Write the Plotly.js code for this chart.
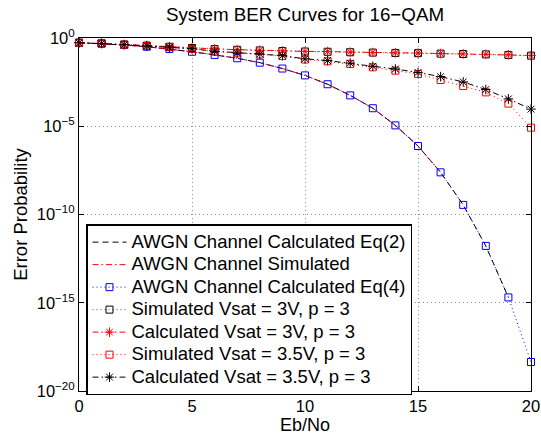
<!DOCTYPE html>
<html>
<head>
<meta charset="utf-8">
<script src="https://cdn.plot.ly/plotly-3.0.1.min.js"></script>
<style>html,body{margin:0;padding:0;background:#fff;}#chart{width:541px;height:438px;}</style>
</head>
<body>
<div id="chart"></div>
<script>
// Eb/No values
const ebno = [0,1,2,3,4,5,6,7,8,9,10,11,12,13,14,15,16,17,18,19,20];

// AWGN channel, calculated Eq(4)
const awgnEq4 = [5.4e-1,4.8e-1,4.0e-1,3.2e-1,2.4e-1,1.66e-1,1.1e-1,7.1e-2,4.0e-2,1.86e-2,7.6e-3,2.4e-3,5.6e-4,1.05e-4,1.12e-5,7.6e-7,2.45e-8,3.5e-10,1.66e-12,2.0e-15,4.4e-19];
// AWGN channel, calculated Eq(2) (underflows at 20 dB)
const awgnEq2 = [5.4e-1,4.8e-1,4.0e-1,3.2e-1,2.4e-1,1.66e-1,1.1e-1,7.1e-2,4.0e-2,1.86e-2,7.6e-3,2.4e-3,5.6e-4,1.05e-4,1.12e-5,7.6e-7,2.45e-8,3.5e-10,1.66e-12,2.0e-15,null];
// AWGN channel, simulated (no errors counted beyond 16 dB)
const awgnSim = [5.4e-1,4.8e-1,4.0e-1,3.2e-1,2.4e-1,1.66e-1,1.1e-1,7.1e-2,4.0e-2,1.86e-2,7.6e-3,2.4e-3,5.6e-4,1.05e-4,1.12e-5,7.6e-7,2.45e-8,null,null,null,null];

// Vsat = 3V, p = 3
const sim3V  = [0.537,0.498,0.430,0.370,0.318,0.272,0.236,0.215,0.198,0.183,0.172,0.166,0.156,0.149,0.143,0.138,0.130,0.124,0.118,0.110,0.100];
const calc3V = [0.537,0.501,0.427,0.372,0.316,0.275,0.240,0.219,0.200,0.186,0.174,0.170,0.158,0.151,0.145,0.141,0.132,0.126,0.120,0.112,0.102];

// Vsat = 3.5V, p = 3
const sim35V  = [0.537,0.490,0.417,0.355,0.302,0.240,0.170,0.135,0.117,0.095,0.0603,0.0479,0.0339,0.0219,0.0141,0.00912,0.00417,0.00191,0.000832,0.000191,0.0000083];
const calc35V = [0.537,0.490,0.417,0.355,0.302,0.245,0.178,0.141,0.123,0.100,0.0661,0.0525,0.0380,0.0251,0.0174,0.0112,0.00646,0.00324,0.00120,0.000355,0.0000933];

const seriesNames = [
  'AWGN Channel Calculated Eq(2)',
  'AWGN Channel Simulated',
  'AWGN Channel Calculated Eq(4)',
  'Simulated Vsat = 3V, p = 3',
  'Calculated Vsat = 3V, p = 3',
  'Simulated Vsat = 3.5V, p = 3',
  'Calculated Vsat = 3.5V, p = 3'
];

const xTickVals = [0,5,10,15,20];
const yTickVals = [1e-20,1e-15,1e-10,1e-5,1];
const yTickText = ['10<sup>\u221220</sup>','10<sup>\u221215</sup>','10<sup>\u221210</sup>','10<sup>\u22125</sup>','10<sup>0</sup>'];

const DASH = '6px,4px';
const DOT = '1px,3px';
const DASHDOT = '6px,3px,1.5px,3px';
const FONT = 'Liberation Sans, Arial, Helvetica, sans-serif';
const legendName = s => '<span style="font-size:18.5px">' + s + '</span>';

const traces = [
  {x: ebno, y: awgnEq2, name: legendName(seriesNames[0]), mode: 'lines',
   line: {color: '#000', width: 1, dash: DASH}},
  {x: ebno, y: awgnSim, name: legendName(seriesNames[1]), mode: 'lines',
   line: {color: '#ff0000', width: 1, dash: DASHDOT}},
  {x: ebno, y: awgnEq4, name: legendName(seriesNames[2]), mode: 'lines+markers',
   line: {color: '#0000ff', width: 1, dash: DOT},
   marker: {symbol: 'square-open', size: 7, color: '#0000ff', line: {width: 1, color: '#0000ff'}}},
  {x: ebno, y: sim3V, name: legendName(seriesNames[3]), mode: 'lines+markers',
   line: {color: '#555', width: 1, dash: DOT},
   marker: {symbol: 'square-open', size: 7, color: '#000', line: {width: 1, color: '#000'}}},
  {x: ebno, y: calc3V, name: legendName(seriesNames[4]), mode: 'lines+markers',
   line: {color: '#ff0000', width: 1, dash: DASHDOT},
   marker: {symbol: 'asterisk-open', size: 8, color: '#ff0000', line: {width: 1, color: '#ff0000'}}},
  {x: ebno, y: sim35V, name: legendName(seriesNames[5]), mode: 'lines+markers',
   line: {color: '#ff0000', width: 1, dash: DOT},
   marker: {symbol: 'square-open', size: 7, color: '#ff0000', line: {width: 1, color: '#ff0000'}}},
  {x: ebno, y: calc35V, name: legendName(seriesNames[6]), mode: 'lines+markers',
   line: {color: '#000', width: 1, dash: DASHDOT},
   marker: {symbol: 'asterisk-open', size: 8, color: '#000', line: {width: 1, color: '#000'}}}
];
traces.forEach(t => { t.type = 'scatter'; t.cliponaxis = false; t.connectgaps = false; });

const axisCommon = {
  showline: true, linecolor: '#000', linewidth: 1, mirror: 'ticks',
  ticks: 'inside', ticklen: 5, tickcolor: '#000', tickwidth: 1,
  showgrid: true, gridcolor: '#8c8c8c', gridwidth: 1, griddash: DOT,
  zeroline: false, tickfont: {family: FONT, size: 16.5, color: '#000'}
};

const layout = {
  width: 541, height: 438,
  margin: {l: 79, r: 10, t: 38, b: 47},
  paper_bgcolor: '#fff', plot_bgcolor: '#fff',
  font: {family: FONT, color: '#000'},
  title: {text: 'System BER Curves for 16\u2212QAM', font: {family: FONT, size: 18.8, color: '#000'},
          x: 0.5, xref: 'paper', y: 1 - 14/438, yref: 'container', yanchor: 'middle'},
  xaxis: Object.assign({}, axisCommon, {
    range: [0, 20], tickvals: xTickVals, ticktext: xTickVals.map(String),
    title: {text: 'Eb/No', font: {family: FONT, size: 18, color: '#000'}, standoff: 3}
  }),
  yaxis: Object.assign({}, axisCommon, {
    type: 'log', range: [-20, 0], tickvals: yTickVals, ticktext: yTickText,
    title: {text: 'Error Probability', font: {family: FONT, size: 18.5, color: '#000'}, standoff: 4}
  }),
  showlegend: true,
  legend: {x: 0.0155, y: 0.472, xanchor: 'left', yanchor: 'top',
           bgcolor: '#fff', bordercolor: '#000', borderwidth: 1.5,
           itemwidth: 34,
           font: {family: FONT, size: 15, color: '#000'}, tracegroupgap: 0}
};

Plotly.newPlot('chart', traces, layout, {displayModeBar: false, staticPlot: true});
</script>
</body>
</html>
